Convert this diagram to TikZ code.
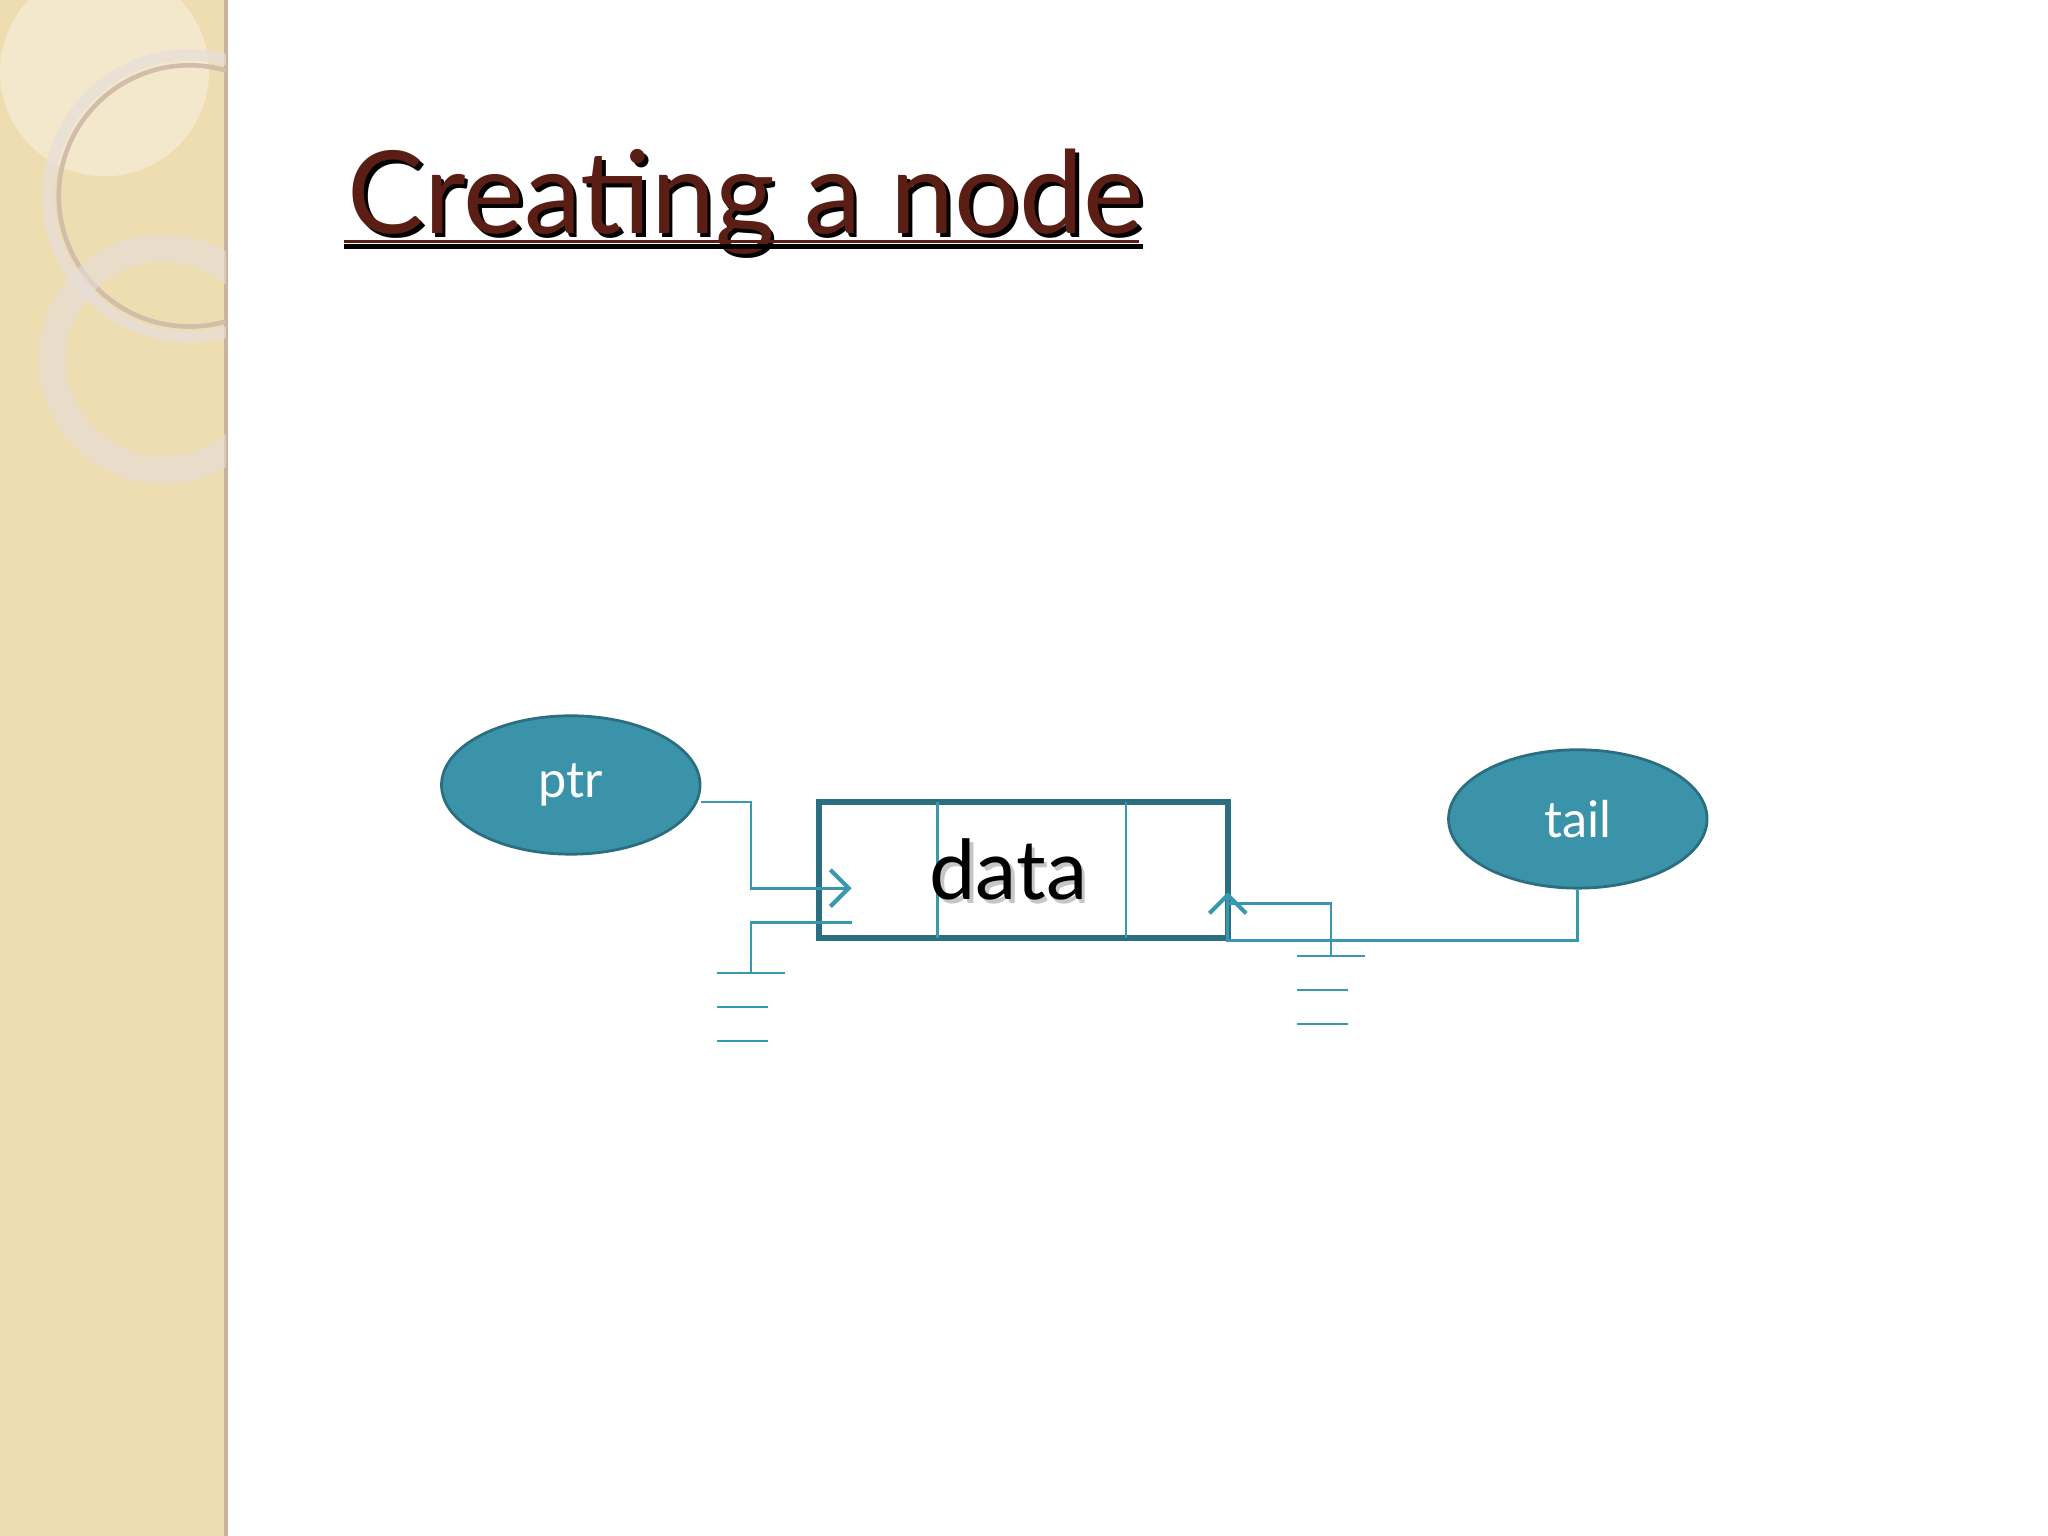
\documentclass[tikz,border=0pt]{standalone}
\usepackage{fontspec}
\setmainfont{Lato}
\usetikzlibrary{arrows.meta,shapes.geometric}
\definecolor{beige}{HTML}{EEDDB0}
\definecolor{teal1}{HTML}{3A93A8}
\definecolor{teal2}{HTML}{2A6E80}
\definecolor{wire}{HTML}{3A98AE}
\definecolor{brown}{HTML}{5A1E14}
\newcommand{\shadowtext}[3]{\rlap{\raisebox{-#3}{\hspace{#3}\textcolor{#2}{#1}}}#1}
\tikzset{ell/.style={ellipse,draw=teal2,line width=1.2pt,fill=teal1,minimum width=3.96cm,minimum height=2.12cm,text=white,font=\fontsize{22}{22}\selectfont},
w/.style={draw=wire,line width=1.2pt},
arr/.style={w,-{Straight Barb[length=8pt,width=16pt,line width=1.8pt]}}}
\begin{document}
\begin{tikzpicture}[x=0.02cm,y=-0.02cm]
\useasboundingbox (0,0) rectangle (1568,1176);
\fill[white] (0,0) rectangle (1568,1176);
\fill[beige] (0,0) rectangle (173,1176);
\draw[color=beige!60!brown!70!white,line width=1.5pt] (173,0)--(173,1176);
\begin{scope}
\clip (0,0) rectangle (173,1176);
\fill[white,opacity=0.35] (80,55) circle (80);
\draw[white!85!brown,line width=5pt,opacity=0.7] (145,150) circle (108);
\draw[beige!60!brown!60!white,line width=2pt] (145,150) circle (100);
\draw[white!85!brown,line width=12pt,opacity=0.6] (125,275) circle (85);
\end{scope}
% title
\node[anchor=base west,inner sep=0pt,text=brown,font=\fontsize{50}{50}\selectfont] (title) at (266,179) {\shadowtext{Creating a node}{black}{1.5pt}};
\draw[black,line width=2.2pt] (263,189) -- (875,189);
\draw[brown,line width=1.5pt] (263,185) -- (872,185);
% ellipses
\node[ell] (ptr) at (437,601) {\raisebox{-4pt}{ptr}};
\node[ell] (tail) at (1208,627) {\raisebox{-2pt}{tail}};
% node box
\node[draw=teal2,line width=2.5pt,minimum width=6.26cm,minimum height=2.08cm] (box) at (783.5,666) {};
\draw[w] (718,614) -- (718,718);
\draw[w] (862,614) -- (862,718);
\node[font=\fontsize{36}{36}\selectfont] (data) at (772,667) {\shadowtext{data}{gray!45}{1.5pt}};
% connectors
\coordinate (p1) at (652,680);
\coordinate (g1) at (575,745);
\draw[arr] (ptr.east |- 0,614) -- (575,614) -- (575,680) -- (p1);
\draw[w] (652,706) -- (575,706) -- (g1);
\draw[w] (549,745) -- (601,745) (549,771) -- (588,771) (549,797) -- (588,797);
\coordinate (t1) at (940,683);
\draw[arr] (tail.south) -- (1208,720) -- (940,720) -- (t1);
\draw[w] (940,692) -- (1019,692) -- (1019,732);
\draw[w] (993,732) -- (1045,732) (993,758) -- (1032,758) (993,784) -- (1032,784);
\end{tikzpicture}
\end{document}
